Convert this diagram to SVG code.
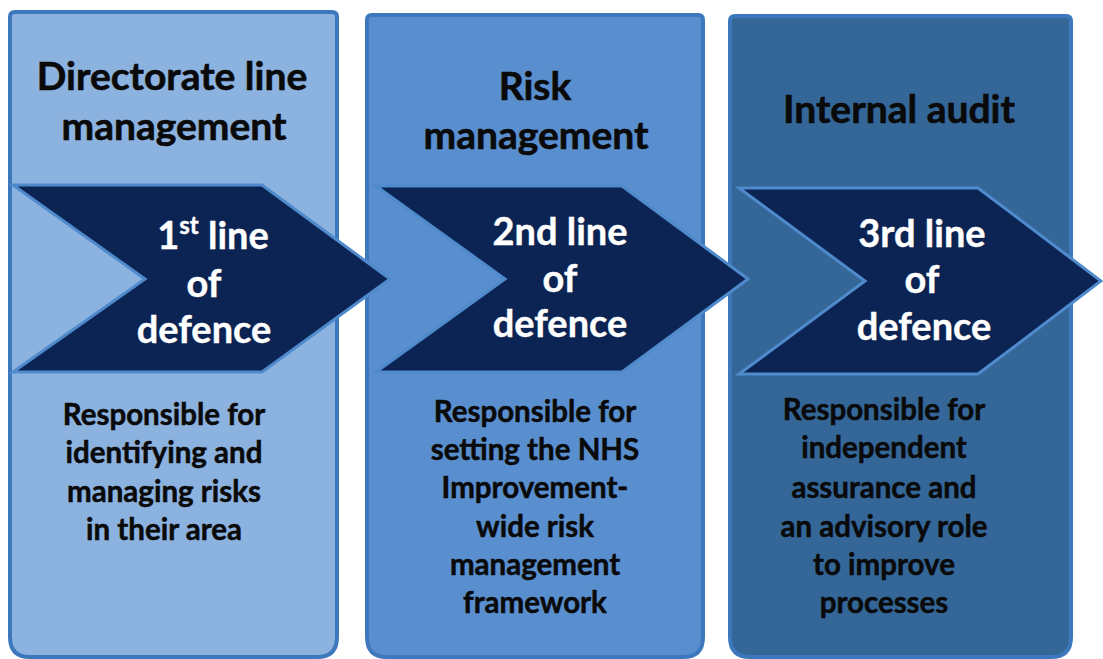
<svg xmlns="http://www.w3.org/2000/svg" width="1103" height="659" viewBox="0 0 1103 659">
<style>
.box{stroke:#3d78bd;stroke-width:4}
.b1{fill:#8cb3e0}
.b2{fill:#5a8fcf}
.b3{fill:#346798}
.chev{fill:#0c2453;stroke:#4f8bcc;stroke-width:3;stroke-linejoin:miter}
text{font-family:Lato,"Open Sans","Liberation Sans",sans-serif;font-weight:bold;text-anchor:middle}
.title{font-size:39px;fill:#0a0a0a;stroke:#0a0a0a;stroke-width:0.6}
.arr{font-size:38px;fill:#ffffff;stroke:#ffffff;stroke-width:0.4}
.body{font-size:29.5px;fill:#0a0a0a;stroke:#0a0a0a;stroke-width:0.5}
</style>
<rect width="1103" height="659" fill="#ffffff"/>
<g id="box1">
<path class="box b1" d="M15,12 H332 Q337,12 337,17 V637 Q337,657 317,657 H30 Q10,657 10,637 V17 Q10,12 15,12 Z"/>
<text class="title" x="172" y="90">Directorate line</text>
<text class="title" x="174" y="140">management</text>
<text class="body" x="164" y="425">Responsible for</text>
<text class="body" x="164" y="463">identifying and</text>
<text class="body" x="164" y="502">managing risks</text>
<text class="body" x="164" y="540">in their area</text>
</g>
<g id="box2">
<path class="box b2" d="M372,15 H698 Q703,15 703,20 V637 Q703,657 683,657 H387 Q367,657 367,637 V20 Q367,15 372,15 Z"/>
<text class="title" x="535" y="100">Risk</text>
<text class="title" x="536" y="149">management</text>
<text class="body" x="535" y="422">Responsible for</text>
<text class="body" x="535" y="460">setting the NHS</text>
<text class="body" x="535" y="498">Improvement-</text>
<text class="body" x="535" y="537">wide risk</text>
<text class="body" x="535" y="575">management</text>
<text class="body" x="535" y="613">framework</text>
</g>
<g id="box3">
<path class="box b3" d="M735,16 H1066 Q1071,16 1071,21 V637 Q1071,657 1051,657 H750 Q730,657 730,637 V21 Q730,16 735,16 Z"/>
<text class="title" x="899" y="123" font-size="40">Internal audit</text>
<text class="body" x="884" y="420">Responsible for</text>
<text class="body" x="884" y="458">independent</text>
<text class="body" x="884" y="498">assurance and</text>
<text class="body" x="884" y="537">an advisory role</text>
<text class="body" x="884" y="575">to improve</text>
<text class="body" x="884" y="613">processes</text>
</g>
<g id="chevron1">
<polygon class="chev" points="13,185 262,185 390,279 262,372 13,372 145,279"/>
<text class="arr" x="213" y="249">1<tspan font-size="24" dy="-15">st</tspan><tspan dy="15"> line</tspan></text>
<text class="arr" x="204" y="297">of</text>
<text class="arr" x="204" y="343">defence</text>
</g>
<g id="chevron2">
<polygon class="chev" points="376,186 622,186 748,279 622,372 376,372 505,279"/>
<text class="arr" x="560" y="245">2nd line</text>
<text class="arr" x="560" y="292">of</text>
<text class="arr" x="560" y="337">defence</text>
</g>
<g id="chevron3">
<polygon class="chev" points="739,188 978,188 1101,281 978,374 739,374 865,281"/>
<text class="arr" x="922" y="247">3rd line</text>
<text class="arr" x="922" y="293">of</text>
<text class="arr" x="924" y="340">defence</text>
</g>
<g id="connectors"/>
</svg>
